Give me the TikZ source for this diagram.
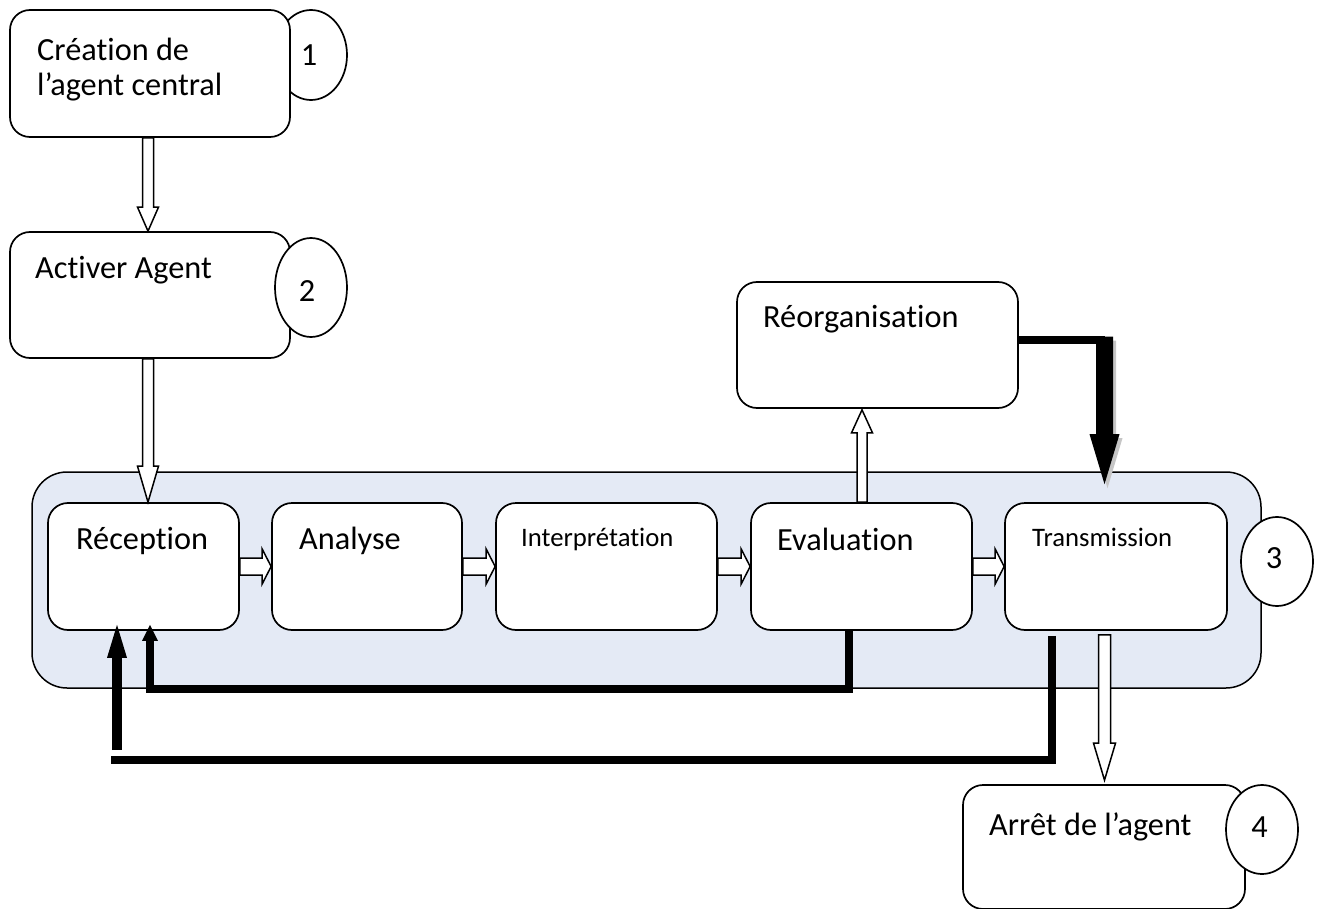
\documentclass[tikz,border=0pt]{standalone}
\usepackage{fontspec}
\setmainfont{Carlito}[Ligatures={NoCommon}]
\usetikzlibrary{calc,shapes.geometric}
\definecolor{contfill}{RGB}{228,234,245}
\newcommand\vblock[5]{\draw[hollow] ($(#1)+(-#3,0)$) -- ($(#2)+(-#3,#5)$) -- ($(#2)+(-#4,#5)$) -- (#2) -- ($(#2)+(#4,#5)$) -- ($(#2)+(#3,#5)$) -- ($(#1)+(#3,0)$) -- cycle;}
\newcommand\hblock[2]{\draw[hollow] ($(#1)+(0,-8.5)$) -- ($(#2)+(-9,-8.5)$) -- ($(#2)+(-9,-17.5)$) -- (#2) -- ($(#2)+(-9,17.5)$) -- ($(#2)+(-9,8.5)$) -- ($(#1)+(0,8.5)$) -- cycle;}
\newcommand\reorgpoly[2]{($(rc)+(-8.5+#1,-3.5+#2)$) -- ($(rt)+(-8.5+#1,-50+#2)$) -- ($(rt)+(-15+#1,-50+#2)$) -- ($(rt)+(#1,#2)$) -- ($(rt)+(15+#1,-50+#2)$) -- ($(rt)+(8.5+#1,-50+#2)$) -- ($(rc)+(8.5+#1,-3.5+#2)$) -- cycle}
\begin{document}
\begin{tikzpicture}[x=1pt,y=-1pt,
  box/.style={draw, line width=1.7pt, rounded corners=20pt, fill=white, inner sep=0pt},
  num/.style={ellipse, draw, line width=1.7pt, fill=white, inner sep=0pt},
  numtxt/.style={inner sep=0pt, font=\fontsize{32.3}{37}\selectfont},
  lbl/.style={anchor=base west, inner sep=0pt, font=\fontsize{32.3}{37}\selectfont},
  slbl/.style={anchor=base west, inner sep=0pt, font=\fontsize{26.7}{31}\selectfont},
  hollow/.style={draw, line width=1.5pt, fill=white, line join=miter},
  fb/.style={line width=8pt, line join=miter}]
\path[use as bounding box] (0,0) rectangle (1319,909);

% top boxes
\node[num, minimum width=72, minimum height=90] (e1) at (311,55) {};
\node[box, minimum width=280, minimum height=127] (c1) at (150,73.5) {};
\node[numtxt] (n1) at (309,55) {1};
\node[lbl] (t1a) at (37,61) {Création de};
\node[lbl] (t1b) at (37,96) {l’agent central};

\node[box, minimum width=280, minimum height=126] (c2) at (150,295) {};
\node[num, minimum width=72, minimum height=99] (e2) at (311,287.5) {};
\node[numtxt] (n2) at (307,291) {2};
\node[lbl] (t2) at (35,278) {Activer Agent};

\node[box, minimum width=281, minimum height=126] (reorg) at (877.5,345) {};
\node[lbl] (t3) at (763,327) {Réorganisation};

% container
\node[draw, line width=1.5pt, rounded corners=35pt, fill=contfill, minimum width=1229, minimum height=216, inner sep=0pt] (cont) at (646.5,580) {};
\node[box, minimum width=191, minimum height=127] (r1) at (143.5,566.5) {};
\node[box, minimum width=190, minimum height=127] (r2) at (367,566.5) {};
\node[box, minimum width=221, minimum height=127] (r3) at (606.5,566.5) {};
\node[box, minimum width=221, minimum height=127] (r4) at (861.5,566.5) {};
\node[box, minimum width=222, minimum height=127] (r5) at (1116,566.5) {};
\node[lbl] (l1) at (76,549) {Réception};
\node[lbl] (l2) at (299,549) {Analyse};
\node[slbl] (l3) at (521,546) {Interprétation};
\node[lbl] (l4) at (777,550) {Evaluation};
\node[slbl] (l5) at (1032,546) {Transmission};
\node[num, minimum width=72, minimum height=89] (e3) at (1277,561.5) {};
\node[numtxt] (n3) at (1274,558) {3};

% stop box
\node[box, minimum width=282, minimum height=124] (arret) at (1104,847) {};
\node[lbl] (t4) at (989,835) {Arrêt de l’agent};
\node[num, minimum width=72, minimum height=89] (e4) at (1262,829.5) {};
\node[numtxt] (n4) at (1259.5,827) {4};

% hollow arrows
\coordinate (d1) at ([xshift=-2pt]c1.south);
\coordinate (d2) at (d1 |- c2.north);
\vblock{d1}{d2}{5.5}{10.5}{-24}
\coordinate (d3) at ([xshift=-2pt]c2.south);
\coordinate (d4) at (d3 |- r1.north);
\vblock{d3}{d4}{5.5}{10.5}{-36}
\hblock{r1.east}{r2.west}
\hblock{r2.east}{r3.west}
\hblock{r3.east}{r4.west}
\hblock{r4.east}{r5.west}
\coordinate (u1) at ([xshift=0.5pt]r4.north);
\coordinate (u2) at ($(u1 |- reorg.south)+(0,1)$);
\vblock{u1}{u2}{5}{10.5}{23}
\coordinate (s1) at ([xshift=-11.5pt,yshift=-4pt]r5.south);
\coordinate (s2) at ($(s1 |- arret.north)+(0,-4)$);
\vblock{s1}{s2}{6}{11}{-37}

% reorganisation -> transmission
\coordinate (rs) at ([yshift=5pt]reorg.east);
\coordinate (rt) at ([xshift=-11.5pt,yshift=18pt]r5.north);
\coordinate (rc) at (rs -| rt);
\draw[line width=7.5pt] (rs) -- (rc);
\fill[gray!45] \reorgpoly{3}{4};
\fill[black] \reorgpoly{0}{0};

% evaluation -> reception
\coordinate (f1) at ([xshift=6.5pt,yshift=6pt]r1.south);
\draw[fb] ([xshift=-13pt]r4.south) -- ++(0,58) -| ($(f1)+(0,15)$);
\fill (f1) -- ++(-8,16) -- ++(16,0) -- cycle;

% transmission -> reception
\coordinate (g0) at ([xshift=-64.5pt,yshift=-5pt]r5.south);
\coordinate (g1) at (111,760);
\draw[fb] (g0) |- (g1);
\coordinate (f2) at ([xshift=-26.5pt,yshift=6pt]r1.south);
\coordinate (g2) at (117,750);
\draw[line width=10pt] (g2) -- ($(f2)+(0,32)$);
\fill (f2) -- ++(-10,33) -- ++(20,0) -- cycle;
\end{tikzpicture}
\end{document}
